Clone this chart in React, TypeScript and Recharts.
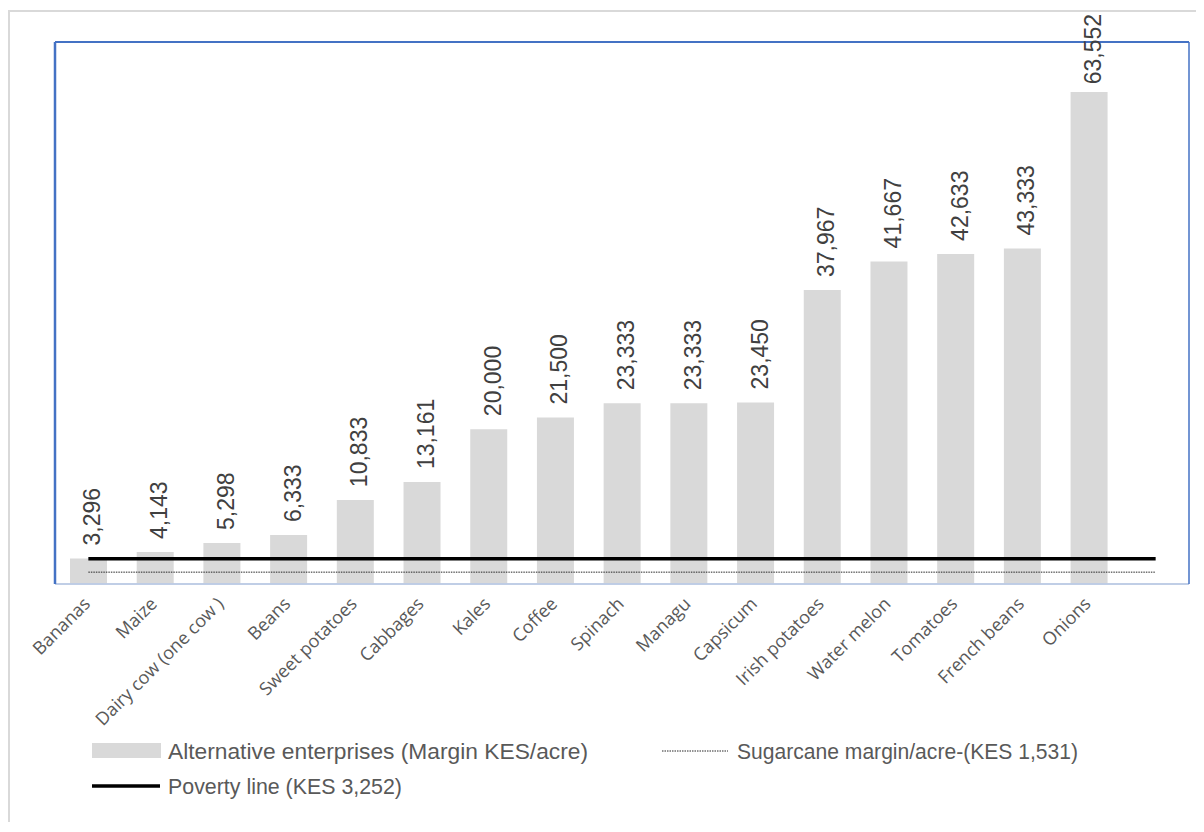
import React from "react";
import {
  ComposedChart,
  Bar,
  Line,
  XAxis,
  YAxis,
  CartesianGrid,
  ReferenceLine,
  LabelList,
} from "recharts";

// Enterprise names (the trailing blank slot lets the reference lines run past the last bar)
const categories = [
  "Bananas",
  "Maize",
  "Dairy cow (one cow )",
  "Beans",
  "Sweet potatoes",
  "Cabbages",
  "Kales",
  "Coffee",
  "Spinach",
  "Managu",
  "Capsicum",
  "Irish potatoes",
  "Water melon",
  "Tomatoes",
  "French beans",
  "Onions",
  "",
];

// Margin KES/acre for each alternative enterprise
const margins: (number | null)[] = [
  3296, 4143, 5298, 6333, 10833, 13161, 20000, 21500, 23333, 23333, 23450,
  37967, 41667, 42633, 43333, 63552, null,
];

const povertyLine = 3252;
const sugarcaneMargin = 1531;

const yTicks = [0, 10000, 20000, 30000, 40000, 50000, 60000, 70000];

const data = categories.map((name, i) => ({
  name,
  margin: margins[i],
  poverty: povertyLine,
  sugarcane: sugarcaneMargin,
}));

const fmt = (v: number) => v.toLocaleString("en-US");

const W = 1196;
const H = 814;
const LABEL_FONT = 23;
const LABEL_GAP = 13;
const LABEL_MIN_TOP = 6; // keep value labels inside the chart frame

const CategoryTick = (props: any) => {
  const { x, y, payload } = props;
  return (
    <g transform={`translate(${x + 3},${y + 21})`}>
      <text
        x={0}
        y={0}
        textAnchor="end"
        transform="rotate(-45)"
        fontSize={18}
        fill="#595959"
        fontFamily="'Open Sans', 'Noto Sans', sans-serif"
      >
        {payload.value}
      </text>
    </g>
  );
};

const ValueLabel = (props: any) => {
  const { x, y, width, value } = props;
  if (value == null) return null;
  const text = fmt(Number(value));
  // approximate rendered length of the rotated label
  const digits = text.replace(/[^0-9]/g, "").length;
  const commas = text.length - digits;
  const len = LABEL_FONT * (0.556 * digits + 0.278 * commas);
  const cx = x + width / 2 + 12;
  const by = Math.max(y - LABEL_GAP, LABEL_MIN_TOP + len);
  return (
    <text
      x={cx}
      y={by}
      transform={`rotate(-90, ${cx}, ${by})`}
      textAnchor="start"
      fontSize={LABEL_FONT}
      fill="#404040"
      fontFamily="'Liberation Sans', Arial, sans-serif"
    >
      {text}
    </text>
  );
};

const legendFont = "'Liberation Sans', Arial, sans-serif";

export default function App() {
  return (
    <div style={{ position: "relative", width: W, height: H }}>
      <div
        style={{
          position: "absolute",
          left: 0,
          top: 2,
          width: W - 2,
          height: H - 2,
          borderTop: "2px solid #d9d9d9",
          borderLeft: "2px solid #d9d9d9",
        }}
      />
      <div style={{ position: "absolute", left: 0, top: 0 }}>
        <ComposedChart
          width={W}
          height={H}
          data={data}
          margin={{ top: 34, right: 14, bottom: 198, left: 46 }}
          barCategoryGap={0}
        >
          <CartesianGrid
            vertical={false}
            stroke="#d9d9d9"
            strokeWidth={1.5}
          />
          <XAxis
            dataKey="name"
            interval={0}
            height={40}
            tickLine={false}
            tickSize={0}
            tickMargin={0}
            axisLine={{ stroke: "#b4c7e7", strokeWidth: 1.5 }}
            tick={<CategoryTick />}
          />
          <YAxis
            domain={[0, 70000]}
            ticks={yTicks}
            width={1}
            tick={false}
            tickLine={false}
            axisLine={{ stroke: "#4472c4", strokeWidth: 2.5 }}
          />
          <YAxis
            yAxisId="frame"
            orientation="right"
            domain={[0, 70000]}
            width={1}
            tick={false}
            tickLine={false}
            axisLine={{ stroke: "#4472c4", strokeWidth: 1.5 }}
          />
          <ReferenceLine y={70000} stroke="#4472c4" strokeWidth={1.8} />
          <Bar
            dataKey="margin"
            fill="#d9d9d9"
            barSize={37}
            isAnimationActive={false}
          >
            <LabelList dataKey="margin" content={<ValueLabel />} />
          </Bar>
          <Line
            dataKey="sugarcane"
            stroke="#262626"
            strokeWidth={1}
            strokeDasharray="1.5 1"
            dot={false}
            activeDot={false}
            isAnimationActive={false}
          />
          <Line
            dataKey="poverty"
            stroke="#000000"
            strokeWidth={3.5}
            dot={false}
            activeDot={false}
            isAnimationActive={false}
          />
        </ComposedChart>
      </div>
      <svg
        width={W}
        height={100}
        style={{ position: "absolute", left: 0, top: 712 }}
      >
        <rect x={84} y={23} width={69} height={15} fill="#d9d9d9" />
        <text
          x={160}
          y={31}
          dominantBaseline="central"
          fontSize={22.5}
          textLength={420}
          lengthAdjust="spacingAndGlyphs"
          fill="#595959"
          fontFamily={legendFont}
        >
          Alternative enterprises (Margin KES/acre)
        </text>
        <line
          x1={654}
          x2={720}
          y1={31}
          y2={31}
          stroke="#262626"
          strokeWidth={1}
          strokeDasharray="1.5 1"
        />
        <text
          x={729}
          y={31}
          dominantBaseline="central"
          fontSize={22}
          textLength={341}
          lengthAdjust="spacingAndGlyphs"
          fill="#595959"
          fontFamily={legendFont}
        >
          Sugarcane margin/acre-(KES 1,531)
        </text>
        <line
          x1={84}
          x2={152}
          y1={66}
          y2={66}
          stroke="#000000"
          strokeWidth={3.5}
        />
        <text
          x={160}
          y={66}
          dominantBaseline="central"
          fontSize={22}
          textLength={234}
          lengthAdjust="spacingAndGlyphs"
          fill="#595959"
          fontFamily={legendFont}
        >
          Poverty line (KES 3,252)
        </text>
      </svg>
    </div>
  );
}
